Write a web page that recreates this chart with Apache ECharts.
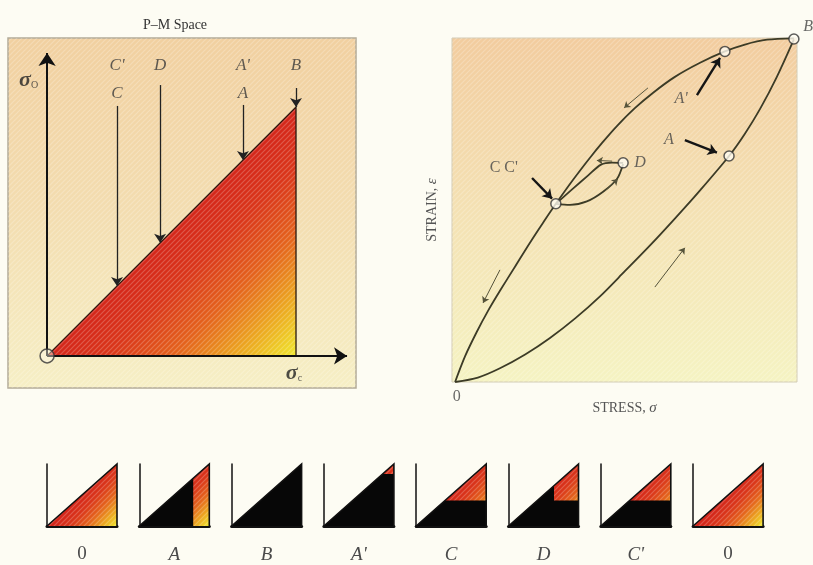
<!DOCTYPE html>
<html><head><meta charset="utf-8">
<script src="https://cdn.jsdelivr.net/npm/echarts@6/dist/echarts.min.js"></script>
<style>html,body{margin:0;padding:0;background:#fdfcf3}#c{width:813px;height:565px}</style>
</head><body><div id="c"></div>
<script>
// ---------- Left panel: P-M space (sigma_c on x, sigma_o on y) ----------
const pmArrowX   = [0.281, 0.454, 0.787, 1.0];
const pmArrowTop = [1.004, 1.088, 1.008, 1.076];
const pmLabelText = ["C'", 'C', 'D', "A'", 'A', 'B'];
const pmLabelX    = [0.281, 0.281, 0.454, 0.787, 0.787, 1.0];
const pmLabelY    = [1.165, 1.052, 1.165, 1.165, 1.052, 1.165];

// ---------- Right panel: stress-strain ----------
const loadStress = [0.009, 0.075, 0.139, 0.212, 0.284, 0.357, 0.429, 0.501, 0.574, 0.646, 0.719, 0.803, 0.849, 0.893, 0.942, 0.991];
const loadStrain = [0.000, 0.013, 0.040, 0.080, 0.128, 0.185, 0.249, 0.322, 0.397, 0.475, 0.557, 0.657, 0.722, 0.794, 0.888, 0.996];
const unloadStress = [0.991, 0.913, 0.849, 0.791, 0.719, 0.646, 0.583, 0.530, 0.478, 0.435, 0.400, 0.351, 0.301, 0.264, 0.226, 0.183, 0.139, 0.104, 0.072, 0.038, 0.009];
const unloadStrain = [0.999, 0.995, 0.981, 0.961, 0.928, 0.887, 0.841, 0.796, 0.744, 0.695, 0.652, 0.588, 0.518, 0.463, 0.405, 0.336, 0.265, 0.206, 0.146, 0.075, 0.000];
const reloadStress = [0.301, 0.342, 0.391, 0.438, 0.478, 0.496];
const reloadStrain = [0.518, 0.515, 0.525, 0.553, 0.590, 0.634];
const reunloadStress = [0.496, 0.464, 0.432, 0.394, 0.348, 0.301];
const reunloadStrain = [0.637, 0.638, 0.632, 0.600, 0.560, 0.518];
const pointStress = [0.991, 0.791, 0.803, 0.496, 0.301];
const pointStrain = [0.997, 0.961, 0.657, 0.637, 0.518];
const curveLabelText = ['B', "A'", 'A', 'D', "C C'", '0'];
const curveLabelX = [1.032, 0.664, 0.629, 0.545, 0.150, 0.014];
const curveLabelY = [1.032, 0.823, 0.703, 0.637, 0.622, -0.044];
const pointerFrom = [[0.710, 0.834], [0.675, 0.703], [0.232, 0.593]];
const pointerTo   = [[0.777, 0.942], [0.768, 0.667], [0.290, 0.533]];
const dirFrom = [[0.568, 0.855], [0.139, 0.326], [0.588, 0.276], [0.464, 0.642], [0.443, 0.555]];
const dirTo   = [[0.499, 0.797], [0.090, 0.230], [0.675, 0.390], [0.420, 0.644], [0.481, 0.590]];

// ---------- Bottom row: P-M space states ----------
const iconStates = ['0', 'A', 'B', "A'", 'C', 'D', "C'", '0'];
const openFromX  = [0, 0.77, 1, 0, 0, 0.65, 0, 0];
const openFromY  = [0, 0, 1, 0.84, 0.41, 0.41, 0.41, 0];

const SERIF = "'Liberation Serif','DejaVu Serif',serif";
const pmGrad = () => new echarts.graphic.LinearGradient(0, 0, 1, 1, [
  {offset: 0, color: '#d4241a'}, {offset: 0.5, color: '#d4261a'},
  {offset: 0.62, color: '#da361a'}, {offset: 0.75, color: '#e4621c'},
  {offset: 0.88, color: '#eca820'}, {offset: 1, color: '#f0e82e'}]);

// faint diagonal hatching texture
const hatch = document.createElement('canvas');
hatch.width = 5; hatch.height = 5;
(function () {
  const g = hatch.getContext('2d');
  g.strokeStyle = 'rgba(255,255,255,0.22)'; g.lineWidth = 1.2;
  g.beginPath(); g.moveTo(-1, 6); g.lineTo(6, -1); g.stroke();
  g.beginPath(); g.moveTo(-1, 1); g.lineTo(1, -1); g.stroke();
  g.beginPath(); g.moveTo(4, 6); g.lineTo(6, 4); g.stroke();
})();
const hatchFill = {image: hatch, repeat: 'repeat'};

const chart = echarts.init(document.getElementById('c'), null, {renderer: 'canvas'});

const grids = [
  {left: 8, top: 38, width: 348, height: 350, show: true, borderColor: '#b3ab98', borderWidth: 1.5,
   backgroundColor: new echarts.graphic.LinearGradient(0, 0, 0, 1, [
     {offset: 0, color: '#f1d0a0'}, {offset: 0.5, color: '#f3ddb0'}, {offset: 1, color: '#f6efc5'}])},
  {left: 452, top: 38, width: 345, height: 344, show: true, borderColor: '#d2cbb5', borderWidth: 1,
   backgroundColor: new echarts.graphic.LinearGradient(0, 0, 0, 1, [
     {offset: 0, color: '#f2cc9e'}, {offset: 0.5, color: '#f4e1b3'}, {offset: 1, color: '#f5f3c2'}])}
];
const xAxes = [
  {gridIndex: 0, type: 'value', min: -0.157, max: 1.241, show: false},
  {gridIndex: 1, type: 'value', min: 0, max: 1, name: 'STRESS, {i|σ}', nameLocation: 'middle', nameGap: 19,
   axisLine: {show: false}, axisTick: {show: false}, axisLabel: {show: false}, splitLine: {show: false},
   nameTextStyle: {fontFamily: SERIF, fontSize: 14, color: '#555',
     rich: {i: {fontFamily: SERIF, fontSize: 15, fontStyle: 'italic', color: '#555'}}}}
];
const yAxes = [
  {gridIndex: 0, type: 'value', min: -0.129, max: 1.277, show: false},
  {gridIndex: 1, type: 'value', min: 0, max: 1, name: 'STRAIN, {i|ε}', nameLocation: 'middle', nameGap: 12,
   axisLine: {show: false}, axisTick: {show: false}, axisLabel: {show: false}, splitLine: {show: false},
   nameTextStyle: {fontFamily: SERIF, fontSize: 14, color: '#555',
     rich: {i: {fontFamily: SERIF, fontSize: 15, fontStyle: 'italic', color: '#555'}}}}
];

const series = [];
// hatch overlays on both panels
[[0, -0.157, 1.241, -0.129, 1.277], [1, 0, 1, 0, 1]].forEach(([ax, x0, x1, y0, y1]) => {
  series.push({type: 'custom', xAxisIndex: ax, yAxisIndex: ax, data: [[x0, y0]], silent: true, z: 3,
    renderItem: (p, api) => {
      const a = api.coord([x0, y1]), b = api.coord([x1, y0]);
      return {type: 'rect', shape: {x: a[0], y: a[1], width: b[0] - a[0], height: b[1] - a[1]},
        style: {fill: hatchFill}};
    }});
});
// Left: triangle
series.push({type: 'custom', xAxisIndex: 0, yAxisIndex: 0, data: [[1, 1]], silent: true, z: 2,
  renderItem: (p, api) => {
    const pts = [[0, 0], [1, 0], [1, 1]].map(q => api.coord(q));
    return {type: 'polygon', shape: {points: pts}, style: {fill: pmGrad()}};
  }});
series.push({type: 'custom', xAxisIndex: 0, yAxisIndex: 0, data: [[1, 1]], silent: true, z: 4,
  renderItem: (p, api) => {
    const pts = [[0, 0], [1, 1], [1, 0]].map(q => api.coord(q));
    return {type: 'polyline', shape: {points: pts}, style: {stroke: '#2a1a10', lineWidth: 1.3, fill: null}};
  }});
// Left: axes arrows
series.push({type: 'line', xAxisIndex: 0, yAxisIndex: 0, data: [], silent: true, z: 4,
  markLine: {silent: true, symbol: ['none', 'arrow'], symbolSize: 13, label: {show: false},
    lineStyle: {color: '#111', width: 2, type: 'solid'},
    data: [[{coord: [0, 0]}, {coord: [1.205, 0]}], [{coord: [0, 0]}, {coord: [0, 1.217]}]]}});
// Left: state arrows
series.push({type: 'line', xAxisIndex: 0, yAxisIndex: 0, data: [], silent: true, z: 4,
  markLine: {silent: true, symbol: ['none', 'arrow'], symbolSize: 9, label: {show: false},
    lineStyle: {color: '#222', width: 1.3, type: 'solid'},
    data: pmArrowX.map((x, i) => [{coord: [x, pmArrowTop[i]]}, {coord: [x, x]}])}});
// Left: origin circle
series.push({type: 'scatter', xAxisIndex: 0, yAxisIndex: 0, data: [[0, 0]], symbolSize: 14, silent: true, z: 5,
  itemStyle: {color: 'rgba(255,250,235,0.5)', borderColor: '#333', borderWidth: 1.5}});
// Left: labels
series.push({type: 'scatter', xAxisIndex: 0, yAxisIndex: 0, symbolSize: 0, clip: false, silent: true, z: 5,
  data: pmLabelText.map((t, i) => ({value: [pmLabelX[i], pmLabelY[i]], name: t})),
  label: {show: true, position: 'inside', formatter: p => p.name, fontFamily: SERIF, fontSize: 17,
    fontStyle: 'italic', color: '#383838'}});
series.push({type: 'scatter', xAxisIndex: 0, yAxisIndex: 0, symbolSize: 0, clip: false, silent: true, z: 5,
  data: [{value: [-0.074, 1.108], name: 'o'}, {value: [0.992, -0.07], name: 'c'}],
  label: {show: true, position: 'inside', formatter: p => '{s|σ}{b|' + (p.name === 'o' ? 'O' : 'c') + '}',
    rich: {s: {fontFamily: SERIF, fontSize: 22, fontStyle: 'italic', fontWeight: 'bold', color: '#222'},
           b: {fontFamily: SERIF, fontSize: 10, color: '#333', padding: [10, 0, 0, 0]}}}});

// Right: curves
const curveStyle = {color: '#3c3b26', width: 1.8};
[[loadStress, loadStrain], [unloadStress, unloadStrain], [reloadStress, reloadStrain], [reunloadStress, reunloadStrain]]
  .forEach(([xs, ys], k) => series.push({type: 'line', xAxisIndex: 1, yAxisIndex: 1, silent: true, z: 4,
    data: xs.map((x, i) => [x, ys[i]]), smooth: 0.3, showSymbol: false, symbol: 'none',
    lineStyle: curveStyle}));
// Right: small direction arrows
series.push({type: 'line', xAxisIndex: 1, yAxisIndex: 1, data: [], silent: true, z: 4,
  markLine: {silent: true, symbol: ['none', 'arrow'], symbolSize: 6, label: {show: false},
    lineStyle: {color: '#55533a', width: 1, type: 'solid'},
    data: dirFrom.map((f, i) => [{coord: f}, {coord: dirTo[i]}])}});
// Right: labelled pointers
series.push({type: 'line', xAxisIndex: 1, yAxisIndex: 1, data: [], silent: true, z: 4,
  markLine: {silent: true, symbol: ['none', 'arrow'], symbolSize: 9, label: {show: false},
    lineStyle: {color: '#151515', width: 2.4, type: 'solid'},
    data: pointerFrom.map((f, i) => [{coord: f}, {coord: pointerTo[i]}])}});
// Right: state points
series.push({type: 'scatter', xAxisIndex: 1, yAxisIndex: 1, silent: true, clip: false, symbolSize: 10, z: 6,
  data: pointStress.map((x, i) => [x, pointStrain[i]]),
  itemStyle: {color: '#fffdf2', borderColor: '#333', borderWidth: 1.5}});
// Right: labels
series.push({type: 'scatter', xAxisIndex: 1, yAxisIndex: 1, symbolSize: 0, clip: false, silent: true, z: 6,
  data: curveLabelText.map((t, i) => ({value: [curveLabelX[i], curveLabelY[i]], name: t,
    label: {fontStyle: (t === '0' || t === "C C'") ? 'normal' : 'italic'}})),
  label: {show: true, position: 'inside', formatter: p => p.name, fontFamily: SERIF, fontSize: 16,
    color: '#444'}});

// Bottom icons
iconStates.forEach((s, i) => {
  const gi = 2 + i;
  grids.push({left: 47 + i * 92.3, top: 464, width: 70, height: 69});
  xAxes.push({gridIndex: gi, type: 'value', min: 0, max: 1, name: s, nameLocation: 'middle', nameGap: 19,
    axisLine: {lineStyle: {color: '#111', width: 3}}, axisTick: {show: false}, axisLabel: {show: false},
    splitLine: {show: false},
    nameTextStyle: {fontFamily: SERIF, fontSize: 19, color: '#4a4a4a', fontStyle: s === '0' ? 'normal' : 'italic'}});
  yAxes.push({gridIndex: gi, type: 'value', min: 0, max: 1,
    axisLine: {lineStyle: {color: '#111', width: 1.5}}, axisTick: {show: false}, axisLabel: {show: false},
    splitLine: {show: false}});
  series.push({type: 'custom', xAxisIndex: gi, yAxisIndex: gi, data: [[1, 1]], silent: true, z: 1,
    renderItem: (p, api) => {
      const xa = openFromX[i], ya = openFromY[i], m = Math.max(xa, ya);
      const tri = [[0, 0], [1, 0], [1, 1]].map(q => api.coord(q));
      const blk = [[0, 0], [1, 0], [1, ya], [m, ya], [m, m]].map(q => api.coord(q));
      return {type: 'group', children: [
        {type: 'polygon', shape: {points: tri}, style: {fill: pmGrad()}},
        {type: 'polygon', shape: {points: tri}, style: {fill: hatchFill}},
        {type: 'polygon', shape: {points: blk}, style: {fill: '#070707'}},
        {type: 'polyline', shape: {points: [tri[0], tri[2], tri[1]]}, style: {stroke: '#111', lineWidth: 1.6, fill: null}}
      ]};
    }});
});

chart.setOption({
  animation: false,
  backgroundColor: '#fdfcf3',
  title: {text: 'P–M Space', left: 170, top: 13, textAlign: 'center',
    textStyle: {fontFamily: SERIF, fontSize: 14, fontWeight: 'normal', color: '#333'}},
  grid: grids, xAxis: xAxes, yAxis: yAxes, series: series
});
</script></body></html>
